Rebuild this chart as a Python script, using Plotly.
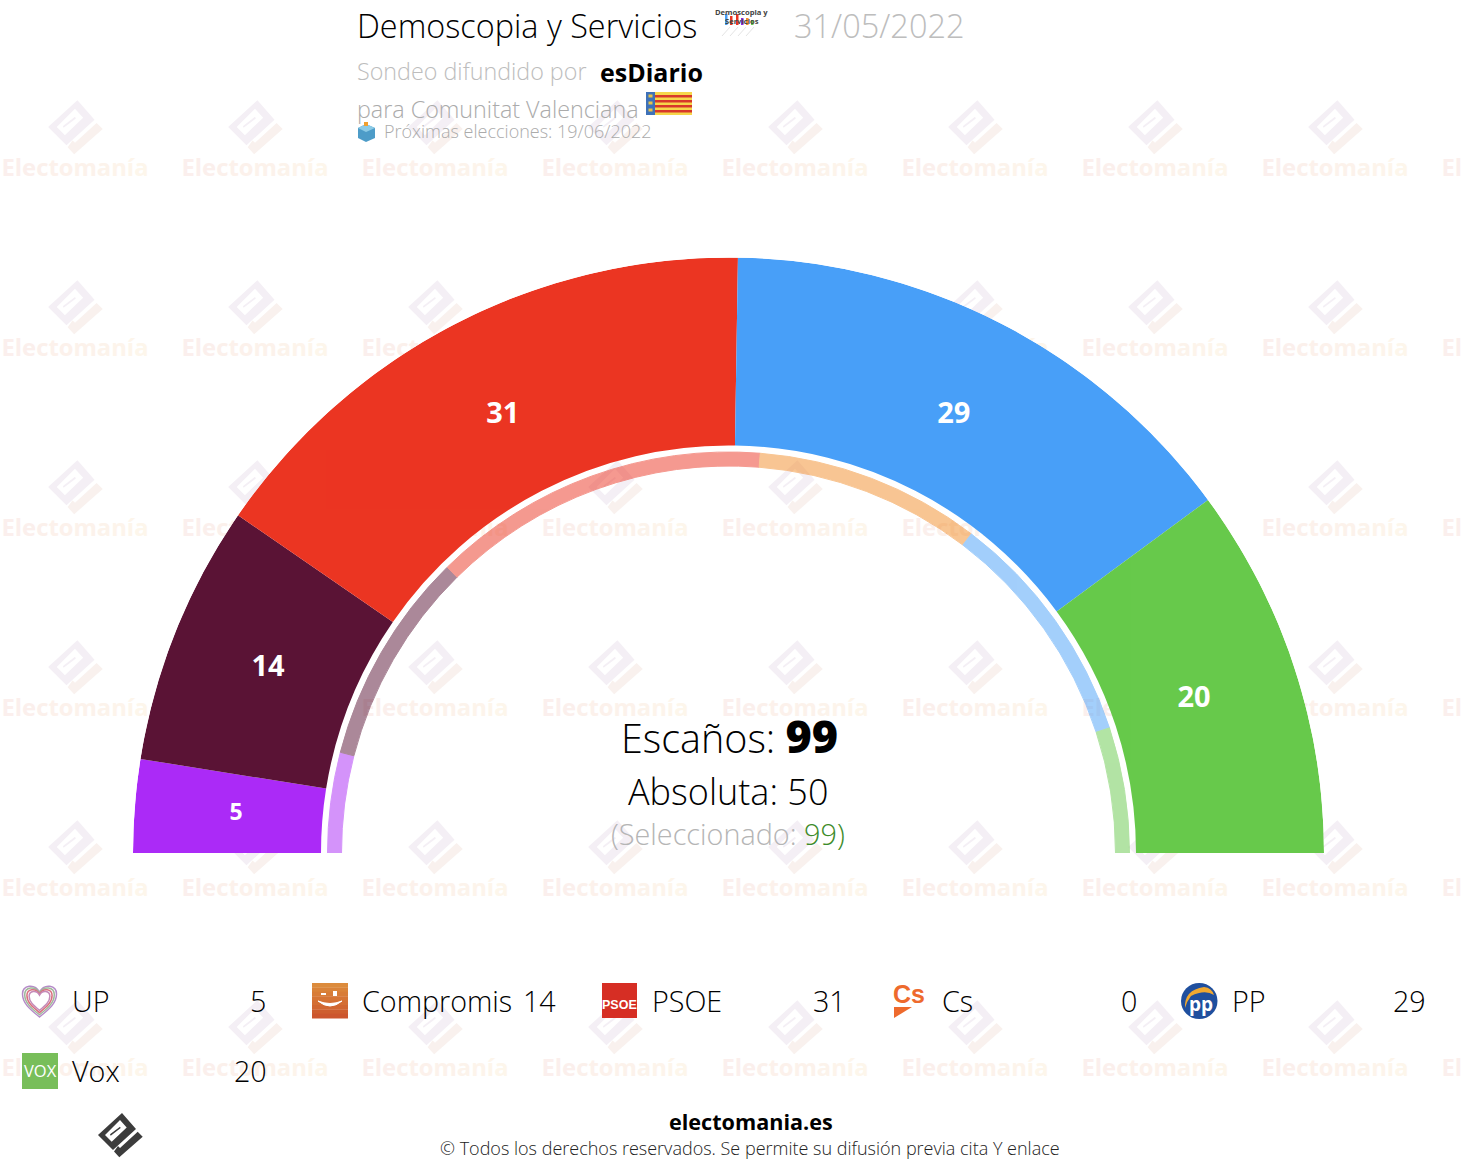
# plot.py
# Semicircle seat chart, Comunitat Valenciana poll

import re
import numpy as np
import plotly.graph_objects as go

W, H = 1462, 1170

# Seats in the poll (outer ring), Cs has no seat
parties = ['UP', 'Compromis', 'PSOE', 'Cs', 'PP', 'Vox']
seats = [5, 14, 31, 0, 29, 20]
# Seats in the selected reference (thin inner ring)
ref_seats = [8, 17, 27, 18, 19, 10]
colors = ['#AB2AF7', '#5A1335', '#EB3522', '#F28C28', '#489FF8', '#67C94B']

total_label = 99
absolute_label = 50
selected_label = 99

# Ring geometry, the radial axis is in pixels
R_OUT, R_MAIN, R_THIN_OUT, R_THIN_IN = 595.5, 407.5, 401, 387
CX, CY = 728.5, 853
LABEL_R = [494, 496, 492.5, 491.5, 490]
FONT = 'Open Sans'


def px(x):
    return round(x / W, 5)


def py(y):
    return round(1 - y / H, 5)


def path(d):
    # pixel path to paper path
    return re.sub(r'(-?[\d.]+),(-?[\d.]+)', lambda m: f'{px(float(m[1]))},{py(float(m[2]))}', d)


def ring_angles(values):
    values = np.array(values, dtype=float)
    edges = np.cumsum(values) * 180 / values.sum()
    return edges - values * 90 / values.sum(), values * 180 / values.sum()


shapes = []
annots = []


def rect(x0, y0, x1, y1, fill, layer='above'):
    shapes.append(dict(type='rect', xref='paper', yref='paper', x0=px(x0), x1=px(x1), y0=py(y0), y1=py(y1),
                       fillcolor=fill, line_width=0, layer=layer))


def poly(d, fill='rgba(0,0,0,0)', line=None, lw=0, layer='above'):
    shapes.append(dict(type='path', xref='paper', yref='paper', path=path(d), fillcolor=fill, fillrule='evenodd',
                       line=dict(color=line or 'rgba(0,0,0,0)', width=lw), layer=layer))


def text(x, y, s, size, color='#000', anchor='left', weight=300, family=FONT):
    annots.append(dict(xref='paper', yref='paper', x=px(x), y=py(y), text=s, showarrow=False, xanchor=anchor,
                       yanchor='middle', align=anchor, borderpad=0, borderwidth=0,
                       font=dict(family=family, size=size, color=color, weight=weight)))


def logo(cx, cy, k, body, tick, layer='above'):
    def pts(p):
        return ' L '.join(f'{cx + a * k:.2f},{cy + b * k:.2f}' for a, b in p)
    outer = [(2, -22), (-22, 0), (-7, 15), (16, -6)]
    slot = [(0, -15), (-15, 0), (-8.3, 6.7), (6.7, -7.6)]
    slit = [(-10, -.7), (0, -8.3), (.7, -7), (-9.3, .7)]
    poly(f'M {pts(outer)} Z M {pts(slot)} Z M {pts(slit)} Z', fill=body, layer=layer)
    check = [(-6, 16.5), (-.7, 22.3), (22.7, 1.7), (17.7, -3.3), (0, 13), (-2, 11)]
    poly(f'M {pts(check)} Z', fill=tick, layer=layer)


# Watermark grid, sits under the rings
mark_letters = list('Electomanía')
mark_colors = ['#FBEFED', '#FBEFEC', '#FBEFEC', '#FBF0EB', '#FCF1EB', '#FCF1EB',
               '#FCF2EB', '#FCF3EB', '#FDF4EB', '#FDF5EB', '#FDF6EB']
mark_text = ''.join(f'<span style="color:{c}">{t}</span>' for t, c in zip(mark_letters, mark_colors))
for col in range(9):
    for row in range(6):
        mx = 75 + 180 * col
        my = 127 + 180 * row
        logo(mx, my, 1.22, '#F4EFF5', '#F9F1EE', layer='below')
        shapes.append(dict(type='rect', xref='paper', yref='paper', x0=px(mx - 90), x1=px(mx + 90),
                           y0=py(my + 27), y1=py(my + 55), line_width=0, fillcolor='rgba(0,0,0,0)', layer='below',
                           label=dict(text=mark_text, textposition='middle center',
                                      font=dict(family=FONT, size=23.8, weight=700, color='#FBEFEA'))))

# Header
text(357, 25.5, 'Demoscopia y Servicios', 32.4)
text(794, 25.5, '31/05/2022', 32.5, '#BDBDBD')
text(357, 71, 'Sondeo difundido por', 23.3, '#BDBDBD')
text(600, 72, 'esDiario', 25, '#000', weight=700)
text(357, 108.5, 'para Comunitat Valenciana', 23.3, '#ABABAB')
text(384, 131.5, 'Próximas elecciones: 19/06/2022', 18, '#ABABAB')

# Pollster mark
text(742, 12, 'Demoscopia y', 7.6, '#444', 'center', 700)
text(742, 21, 'Servicios', 7.6, '#444', 'center', 700)
for bx, bc, top in zip([725, 730, 736, 741, 746, 751], ['#489FF8', '#EB3522', '#EB3522', '#8A2BE2', '#F28C28', '#67C94B'],
                       [14, 16, 14, 18, 18, 20]):
    rect(bx, top, bx + 2.5, 25, bc)
for bx in [722, 730, 738, 746]:
    poly(f'M {bx},36 L {bx + 8},27', line='#E4E4E4', lw=1)

# Flag
rect(646, 92, 692, 115, '#F6D64A')
for sy in [95, 100, 105, 110]:
    rect(655, sy, 692, sy + 2.6, '#D8382A')
rect(646, 92, 655, 115, '#3E71B8')
for sy in [96, 103, 110]:
    rect(648.5, sy - 1.5, 652.5, sy + 1.5, '#E5C34A')

# Ballot box
poly('M 358,128 L 366,124 L 375,128 L 375,138 L 366,142 L 358,138 Z', fill='#4D9CC8')
poly('M 358,128 L 366,124 L 375,128 L 366,132 Z', fill='#8CCBE6')
poly('M 364,126 L 364,122 L 368,122 L 368,126 Z', fill='#F0A030')

# Middle of the hemicycle
text(729.5, 735, f'Escaños: <span style="font-size:45px;font-weight:800">{total_label}</span>', 39.5, '#000', 'center')
text(728.5, 792, f'Absoluta: {absolute_label}', 36, '#000', 'center')
text(728.5, 833, f'(Seleccionado: <span style="color:#3D8B2A">{selected_label})</span>', 28.8, '#B5B5B5', 'center')

# Legend
leg_name_x = [72, 362, 652, 942, 1232, 72]
leg_val_x = [266.5, 556.5, 846, 1136.5, 1426, 267]
leg_y = [1000.5, 1000.5, 1000.5, 1000.5, 1000.5, 1070.5]
for i in range(len(parties)):
    text(leg_name_x[i], leg_y[i], parties[i], 28.7)
    text(leg_val_x[i], leg_y[i], str(seats[i]), 28.7, anchor='right')

# UP heart
for k, c in zip([1.0, .87, .74, .61], ['#B58BC8', '#9FB89A', '#D9707E', '#C58AB8']):
    poly(f'M 39.5,{1000 + 17 * k} C {39.5 - 10 * k},{1000 + 9 * k} {39.5 - 17 * k},{1000 + 3 * k} {39.5 - 17 * k},{1000 - 6 * k} '
         f'C {39.5 - 17 * k},{1000 - 15 * k} {39.5 - 5 * k},{1000 - 17 * k} 39.5,{1000 - 8 * k} '
         f'C {39.5 + 5 * k},{1000 - 17 * k} {39.5 + 17 * k},{1000 - 15 * k} {39.5 + 17 * k},{1000 - 6 * k} '
         f'C {39.5 + 17 * k},{1000 + 3 * k} {39.5 + 10 * k},{1000 + 9 * k} 39.5,{1000 + 17 * k} Z', line=c, lw=1.5)

# Compromis square
strip = ['#DC8B3C', '#DA8339', '#D87C37', '#D67535', '#D46E33', '#D16631', '#CE5E2F', '#CC562E']
for i, c in enumerate(strip):
    rect(312, 983 + i * 4.4, 348, 983 + (i + 1) * 4.4 + .3, c)
poly('M 318,1001 Q 330,1011 342,1001 Q 330,1006 318,1001 Z', fill='#FFF', line='#FFF', lw=1)
rect(321, 993, 326, 995, '#FFF')
rect(333, 991, 337, 996, '#FFF')

# PSOE square
rect(602, 983, 637, 1018, '#D62E24')
text(619.5, 1005, 'PSOE', 12.5, '#FFF', 'center', 700, 'Liberation Sans')

# Cs
text(893, 994, 'Cs', 25, '#EE6A2D', weight=800, family='Liberation Sans')
poly('M 894,1007 L 912,1007 L 894,1018 Z', fill='#EE6A2D')

# PP circle
shapes.append(dict(type='circle', xref='paper', yref='paper', x0=px(1181), x1=px(1217.5), y0=py(983), y1=py(1019),
                   fillcolor='#1F4F9E', line_width=0, layer='above'))
poly('M 1185,1008 Q 1184,990 1204,987 Q 1212,988 1214,995 Q 1205,989 1191,996 Q 1187,1001 1185,1008 Z', fill='#F0A830')
text(1201, 1004, 'pp', 19, '#FFF', 'center', 700)

# Vox square
rect(22, 1053, 58, 1089, '#78BE5A')
text(40, 1071, 'VOX', 16.5, '#FFF', 'center', 400)

# Footer
logo(120, 1135, 1, '#3C3C3C', '#3C3C3C')
text(751, 1122, 'electomania.es', 21.6, '#000', 'center', 700)
text(750, 1148.5, '© Todos los derechos reservados. Se permite su difusión previa cita Y enlace', 18, '#222', 'center', 300)

fig = go.Figure()

# Outer ring
theta_main, width_main = ring_angles(seats)
fig.add_trace(go.Barpolar(theta=theta_main, width=width_main, r=[R_OUT - R_MAIN] * len(seats), base=R_MAIN,
                          marker=dict(color=colors, line_width=0), hoverinfo='skip'))

# Thin inner ring
theta_ref, width_ref = ring_angles(ref_seats)
fig.add_trace(go.Barpolar(theta=theta_ref, width=width_ref, r=[R_THIN_OUT - R_THIN_IN] * len(ref_seats), base=R_THIN_IN,
                          opacity=.5, marker=dict(color=colors, line=dict(color=colors, width=1)), hoverinfo='skip'))

# Seat numbers on the ring
shown = [s > 0 for s in seats]
fig.add_trace(go.Scatterpolar(theta=theta_main[shown], r=LABEL_R, mode='text',
                              text=[str(s) for s in seats if s > 0],
                              textfont=dict(family=FONT, size=[23, 29, 29, 29, 29], color='#FFF', weight=700),
                              hoverinfo='skip'))

fig.update_layout(
    width=W, height=H, margin=dict(l=0, r=0, t=0, b=0), autosize=False, showlegend=False,
    paper_bgcolor='#FFF', font=dict(family=FONT),
    polar=dict(
        domain=dict(x=[(CX - R_OUT) / W, (CX + R_OUT) / W], y=[1 - CY / H, 1 - (CY - R_OUT) / H]),
        sector=[0, 180], bgcolor='rgba(0,0,0,0)',
        radialaxis=dict(visible=False, range=[0, R_OUT]),
        angularaxis=dict(visible=False, rotation=180, direction='clockwise'),
    ),
    shapes=shapes, annotations=annots,
)

fig.write_html('out.html', config=dict(displayModeBar=False), post_script="document.body.style.margin='0';")
